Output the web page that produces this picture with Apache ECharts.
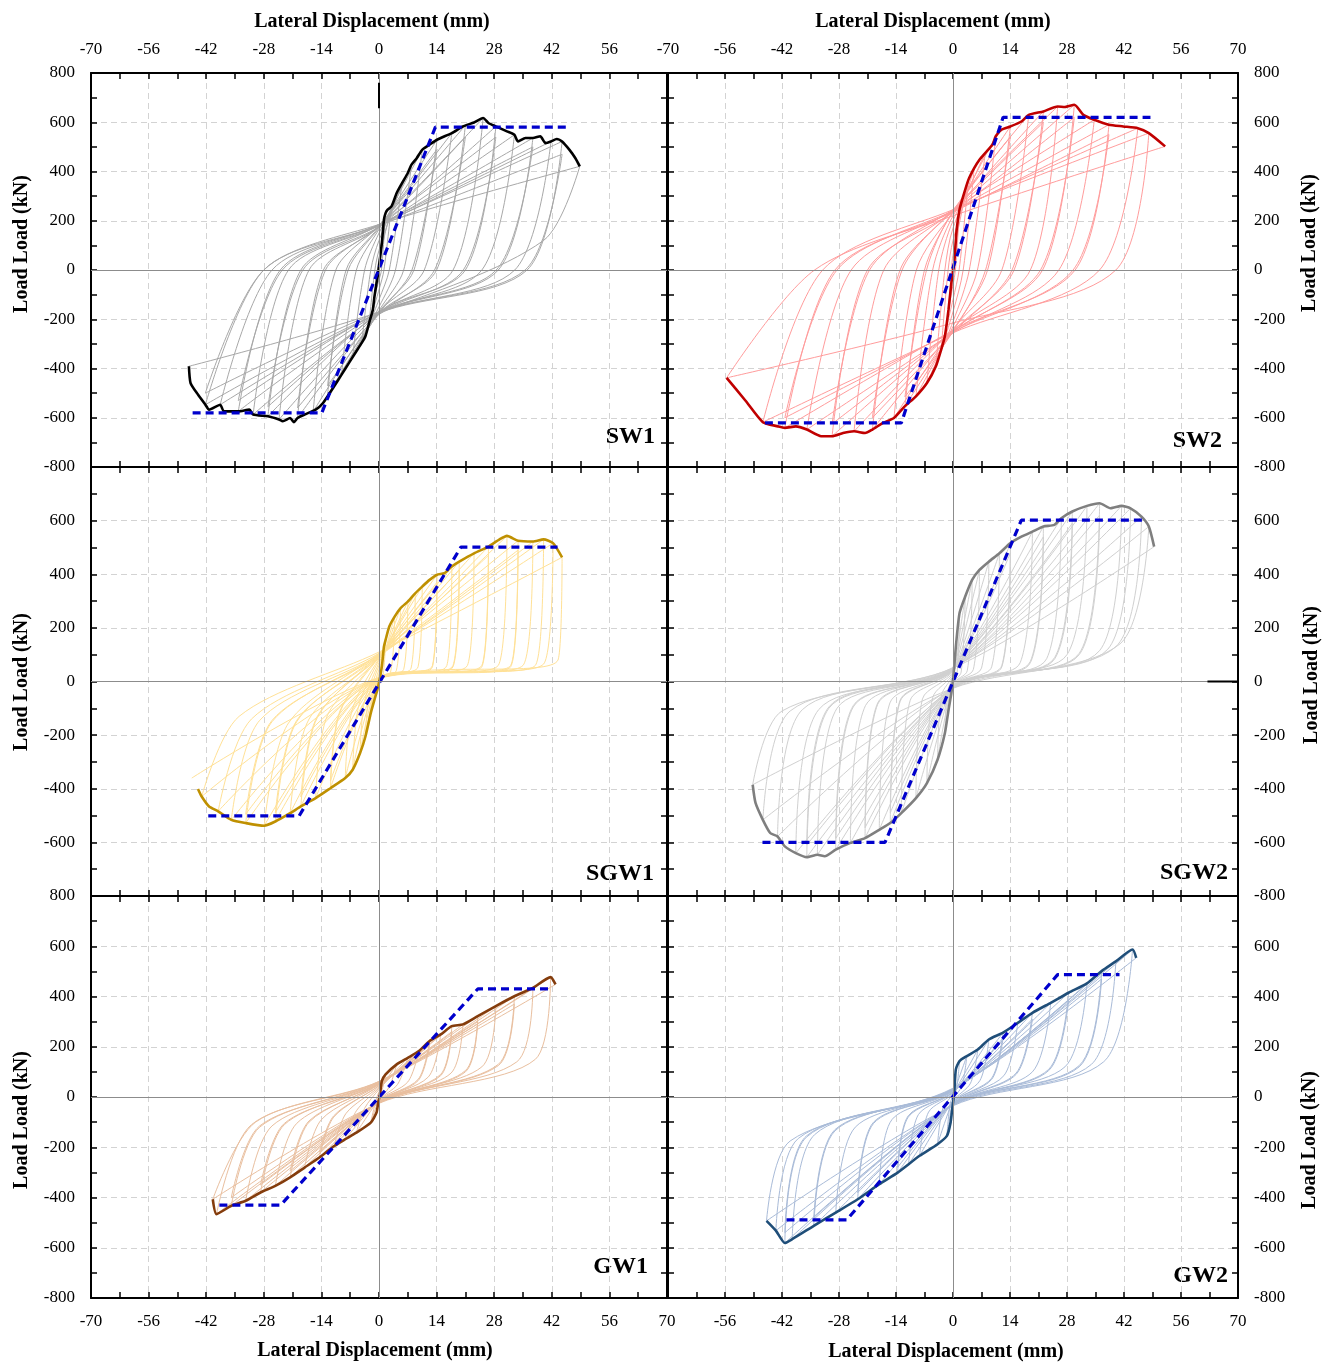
<!DOCTYPE html>
<html>
<head>
<meta charset="utf-8">
<title>Hysteresis curves</title>
<script src="https://cdn.jsdelivr.net/npm/echarts@6/dist/echarts.min.js"></script>
<style>
html,body{margin:0;padding:0;background:#fff;}
#chart{width:1322px;height:1363px;}
</style>
</head>
<body>
<div id="chart"></div>
<script>
// axis ticks
var dispTicks = [-70,-56,-42,-28,-14,0,14,28,42,56,70];
var loadTicks = [-800,-600,-400,-200,0,200,400,600,800];

// ---- SW1 ----  (peaks alternate +/-, each transition: peak -> knee -> (0,pinch) -> next peak)
var sw1PeakD = [1.6,-1.1, 3.0,-2.4, 5.6,-4.2, 7.9,-6.4, 10.5,-9.1, 14.1,-12.5, 14.1,-12.5, 17.7,-16, 21,-19.8, 21,-19.8, 25.3,-24.3, 28.4,-27, 28.4,-27, 32.9,-30.6, 37.4,-34.2, 37.4,-34.2, 41.8,-38.6, 44.5,-42.2, 44.5,-42.2, 48.8,-46.2];
var sw1PeakF = [231,-107, 258,-215, 353,-296, 428,-355, 488,-425, 529,-510, 490,-470, 556,-575, 588,-601, 540,-560, 617,-607, 583,-594, 540,-555, 549,-587, 536,-574, 500,-530, 522,-547, 522,-547, 470,-500, 421,-391];
var sw1KneeD = [0.6,-0.4, 1.2,-1.0, 2.5,-2.0, 4.0,-3.5, 6.0,-5.5, 8.5,-8, 8.0,-7.5, 11,-10.5, 14,-13.5, 13.5,-13, 18,-17, 21,-19, 20.5,-18.5, 25,-22, 29,-24, 28.5,-23.5, 33,-26, 36,-28, 35.5,-28, 40];
var sw1KneeF = [0,0,0,0,0,0,0,0,0,0, 0,0,0,0,0,0,0,0,0,0, 0,0,0,0,0,0,0,0,0,0, 0,0,0,0,0,0,0,0,120];
var sw1Pinch = [-40,40, -80,80, -120,120, -150,150, -165,165, -170,175, -175,170, -170,180, -175,175, -180,180, -175,175, -170,185, -175,175, -180,180, -175,185, -170,180, -175,184, -175,180, -170,185, -170];
var sw1Envelope = [[-46.2,-391],[-45.8,-459],[-44.0,-506],[-42.2,-547],[-41.3,-567],[-38.6,-547],[-37.7,-574],[-34.2,-574],[-31.5,-567],[-30.6,-587],[-27.0,-594],[-24.3,-607],[-23.4,-614],[-21.6,-601],[-20.7,-618],[-19.8,-601],[-18.1,-587],[-15.4,-567],[-13.6,-540],[-10.9,-472],[-9.1,-425],[-7.3,-377],[-5.5,-330],[-4.2,-296],[-3.3,-269],[-2.4,-215],[-1.5,-161],[-1.1,-107],[-0.6,-53],[-0.2,-12],[0.3,55],[0.7,110],[1.2,204],[1.6,231],[2.1,245],[3.0,258],[3.4,272],[4.3,313],[5.6,353],[7.0,394],[7.9,428],[9.2,455],[10.5,488],[12.3,509],[14.1,529],[17.7,556],[20.4,583],[23.1,599],[25.3,617],[26.6,597],[28.4,583],[31.1,563],[32.9,549],[33.8,522],[35.6,536],[37.4,536],[39.2,543],[40.5,515],[41.8,522],[43.2,532],[44.5,522],[46.3,488],[47.7,455],[48.8,421]];
var sw1Bilinear = [[-45.3,-580],[-13.9,-580],[13.7,580],[45.4,580]];

// ---- SW2 ----
var sw2PeakD = [1.6,-1.1, 3.8,-2.9, 5.2,-4.2, 7.9,-6.4, 10.5,-9.1, 14.1,-11.8, 14.1,-11.8, 18.6,-14.5, 22.2,-19.8, 22.2,-19.8, 25.7,-24.3, 29.8,-29.7, 29.8,-29.7, 34.7,-35.9, 38.3,-41.3, 38.3,-41.3, 45.4,-46.7, 48.1,-55.6, 52.1];
var sw2PeakF = [245,-161, 367,-323, 414,-391, 475,-459, 543,-513, 583,-553, 540,-515, 630,-601, 644,-648, 600,-600, 664,-655, 671,-675, 620,-625, 610,-648, 590,-641, 550,-600, 576,-618, 556,-438, 502];
var sw2KneeD = [0.6,-0.4, 1.5,-1.2, 2.5,-2, 4,-3.5, 6,-5, 8.5,-7, 8,-6.5, 12,-9, 15,-13, 14.5,-12.5, 19,-17, 22,-21, 21.5,-20.5, 26,-25, 30,-29, 29.5,-28.5, 36,-32, 40,-34];
var sw2KneeF = [0,0,0,0,0,0,0,0,0,0, 0,0,0,0,0,0,0,0,0,0, 0,0,0,0,0,0,0,0,0,0, 0,0,0,0,0,0];
var sw2Pinch = [-60,60, -120,120, -170,170, -210,200, -230,220, -245,235, -250,240, -240,230, -250,240, -255,245, -245,240, -250,235, -250,245, -255,240, -245,235, -250,240, -255,245, -215,220];
var sw2Envelope = [[-55.6,-438],[-51,-530],[-46.7,-618],[-43,-635],[-41.3,-641],[-38.6,-635],[-35.9,-648],[-32.4,-675],[-29.7,-675],[-27,-662],[-24.3,-655],[-21.6,-662],[-19.8,-648],[-17.2,-621],[-14.5,-601],[-11.8,-553],[-9.1,-513],[-6.4,-459],[-4.2,-391],[-2.9,-323],[-2,-269],[-1.1,-161],[-0.4,-53],[0.3,28],[0.9,164],[1.6,245],[2.5,299],[3.8,367],[5.2,414],[6.5,448],[7.9,475],[9.7,509],[10.5,543],[11.9,570],[14.1,583],[16.8,603],[18.6,630],[22.2,644],[25.7,664],[27.5,662],[29.8,671],[32,630],[34.7,610],[38.3,590],[41.8,583],[45.4,576],[48.1,556],[52.1,502]];
var sw2Bilinear = [[-46.2,-621],[-12.7,-621],[12.3,620],[48.5,620]];

// ---- SGW1 ----
var sgw1PeakD = [1.6,-1.1, 3.8,-2, 5.2,-3.3, 7,-4.6, 8.8,-6.4, 10.5,-8.2, 14.1,-11.8, 14.1,-11.8, 17.7,-15.4, 19.5,-19, 19.5,-19, 23.1,-21.6, 26.6,-25.2, 26.6,-25.2, 31.1,-27.9, 33.8,-32.4, 33.8,-32.4, 37.4,-35.9, 40,-39.1, 42.3,-43.1, 44.5,-45.5];
var sgw1PeakF = [155,-68, 242,-118, 273,-205, 298,-267, 329,-329, 354,-360, 398,-398, 370,-370, 429,-435, 447,-466, 415,-430, 478,-491, 503,-522, 470,-490, 543,-538, 525,-528, 490,-495, 522,-516, 530,-484, 516,-429, 463,-360];
var sgw1KneeD = [1.0,-0.8, 2.8,-1.5, 4.2,-2.5, 6.0,-3.6, 7.8,-5, 9.5,-6.5, 13,-9.5, 13,-9.5, 16.5,-12.5, 18,-15, 18,-15, 21.5,-17, 25,-20, 25,-20, 29,-22, 32,-26, 32,-26, 35,-29, 38,-31, 40,-34, 43.5];
var sgw1KneeF = [25,-20, 35,-35, 40,-60, 45,-80, 50,-95, 55,-105, 60,-115, 55,-110, 60,-125, 60,-135, 55,-130, 60,-140, 60,-150, 55,-145, 60,-155, 60,-150, 55,-145, 60,-145, 60,-140, 65,-130, 80];
var sgw1Pinch = [5,30, 5,45, 8,60, 8,70, 10,80, 10,85, 12,90, 10,95, 12,90, 12,100, 10,95, 12,90, 12,100, 10,95, 12,105, 12,100, 10,95, 12,100, 12,105, 12,110, 15];
var sgw1Envelope = [[-44,-401],[-43.1,-429],[-41.3,-466],[-39.1,-484],[-35.9,-516],[-32.4,-528],[-27.9,-538],[-25.2,-522],[-21.6,-491],[-19,-466],[-15.4,-435],[-11.8,-398],[-8.2,-360],[-6.4,-329],[-4.6,-267],[-3.3,-205],[-2,-118],[-1.1,-68],[-0.2,-19],[0.7,56],[1.2,130],[1.6,155],[2.5,205],[3.8,242],[5.2,273],[7,298],[8.8,329],[10.5,354],[12.3,379],[14.1,398],[15.9,404],[17.7,429],[19.5,447],[23.1,478],[26.6,503],[29.3,530],[31.1,543],[33.8,525],[37.4,522],[40,530],[42.3,516],[44.5,463]];
var sgw1Bilinear = [[-41.5,-501],[-19.4,-501],[19.9,501],[43.4,501]];

// ---- SGW2 ----
var sgw2PeakD = [1.6,-1.1, 3,-2, 4.7,-3.8, 6.5,-6.4, 8.8,-9.1, 11.4,-12.7, 14.1,-15.4, 14.1,-15.4, 19.5,-18.1, 22.2,-21.6, 22.2,-21.6, 26.6,-25.2, 29.3,-28.8, 29.3,-28.8, 32.9,-33.3, 36,-35.9, 36,-35.9, 41.4,-38.6, 43.6,-43.1, 46.3,-46.7, 48.1,-49.2, 49.4];
var sgw2PeakF = [255,-106, 317,-193, 379,-292, 416,-379, 447,-435, 478,-491, 516,-528, 480,-490, 559,-553, 578,-584, 540,-545, 609,-602, 634,-627, 590,-585, 655,-646, 665,-655, 620,-610, 655,-640, 646,-578, 615,-516, 578,-385, 503];
var sgw2KneeD = [1,-0.7, 2,-1.4, 3.5,-2.8, 5,-5, 7,-7.5, 9.5,-10.5, 12,-13, 12,-13, 16.5,-15.5, 19,-18.5, 19,-18.5, 23,-21.5, 25,-24.5, 25,-24.5, 28,-28.5, 31,-30.5, 31,-30.5, 36,-33, 38,-37, 40,-40, 41,-42];
var sgw2KneeF = [30,-30, 35,-40, 40,-50, 45,-60, 50,-65, 55,-70, 60,-75, 55,-70, 70,-80, 75,-85, 70,-80, 85,-90, 90,-95, 85,-90, 100,-100, 105,-100, 100,-95, 115,-105, 120,-105, 130,-110, 140,-110];
var sgw2Pinch = [-5,15, -8,20, -10,25, -12,30, -15,35, -18,40, -20,45, -18,42, -20,45, -22,48, -20,45, -22,50, -25,48, -22,45, -20,50, -25,48, -22,50, -25,48, -22,50, -25,52, -25,50];
var sgw2Envelope = [[-49.2,-385],[-48.5,-453],[-46.7,-516],[-44.9,-565],[-43.1,-578],[-41.3,-615],[-38.6,-640],[-35.9,-655],[-33.3,-646],[-31.5,-652],[-28.8,-627],[-25.2,-602],[-21.6,-584],[-18.1,-553],[-15.4,-528],[-12.7,-491],[-9.1,-435],[-6.4,-379],[-3.8,-292],[-2,-193],[-1.1,-106],[-0.4,-43],[0.1,19],[0.7,130],[1.6,255],[3,317],[4.7,379],[6.5,416],[8.8,447],[11.4,478],[14.1,516],[16.8,540],[19.5,559],[22.2,578],[24.9,584],[26.6,609],[29.3,634],[32.9,655],[36,665],[38.7,646],[41.4,655],[43.6,646],[46.3,615],[48.1,578],[49.4,503]];
var sgw2Bilinear = [[-46.8,-600],[-16.7,-600],[16.8,602],[47.4,602]];

// ---- GW1 ----
var gw1PeakD = [1.6,-2, 4.3,-5.5, 7,-8.2, 9.7,-10.9, 12.3,-14.5, 12.3,-14.5, 15,-18.1, 17.7,-21.6, 17.7,-21.6, 20.4,-25.2, 24,-28.8, 24,-28.8, 28.4,-32.4, 32.9,-35.9, 32.9,-35.9, 37.4,-39.5, 41.7,-40.4, 42.9];
var gw1PeakF = [90,-102, 130,-142, 156,-168, 183,-195, 223,-241, 205,-220, 249,-281, 282,-320, 260,-295, 289,-354, 322,-380, 300,-350, 362,-413, 401,-433, 370,-400, 434,-466, 477,-407, 448];
var gw1KneeD = [0.8,-1, 2.5,-3.5, 4.5,-5.5, 7,-8, 9.5,-11, 9.5,-11, 12,-14, 15,-17, 15,-17, 17.5,-20, 21,-23, 21,-23, 25,-26, 29,-29, 29,-29, 33.5,-31, 38,-30];
var gw1KneeF = [30,-30, 40,-45, 50,-55, 60,-65, 70,-80, 65,-75, 80,-90, 90,-100, 85,-95, 95,-105, 105,-110, 100,-105, 120,-115, 130,-120, 125,-115, 140,-110, 150,-100];
var gw1Pinch = [-5,20, -8,30, -10,35, -12,40, -15,45, -15,45, -18,50, -20,52, -18,50, -20,55, -22,55, -20,52, -22,58, -24,60, -22,58, -24,62, -25,62];
var gw1Envelope = [[-40.4,-407],[-39.5,-466],[-35.9,-433],[-32.4,-413],[-28.8,-380],[-25.2,-354],[-21.6,-320],[-18.1,-281],[-14.5,-241],[-10.9,-195],[-8.2,-168],[-5.5,-142],[-2,-102],[-0.6,-62],[-0.2,-23],[0.3,17],[0.7,64],[1.6,90],[4.3,130],[7,156],[9.7,183],[12.3,223],[15,249],[17.7,282],[20.4,289],[24,322],[28.4,362],[32.9,401],[37.4,434],[41.7,477],[42.9,448]];
var gw1Bilinear = [[-38.8,-430],[-23.9,-430],[24,430],[41.8,430]];

// ---- GW2 ----
var gw2PeakD = [1.6,-1.5, 3.4,-3.8, 6.1,-8.2, 8.8,-10.9, 12.3,-13.6, 12.3,-13.6, 15.9,-18.1, 19.5,-23.4, 19.5,-23.4, 24,-28.8, 28.4,-34.2, 28.4,-34.2, 32.9,-39.5, 36.5,-41.3, 36.5,-41.3, 40,-43.5, 44.1,-45.8, 45];
var gw2PeakF = [143,-155, 163,-188, 189,-234, 229,-268, 256,-301, 235,-280, 295,-347, 335,-407, 310,-380, 375,-460, 415,-513, 385,-480, 452,-566, 501,-581, 470,-540, 540,-532, 587,-493, 554];
var gw2KneeD = [0.9,-0.8, 2.2,-2.5, 4.3,-6, 6.6,-8.5, 9.5,-11, 9.5,-11, 12.5,-15, 15.5,-19.5, 15.5,-19.5, 19.5,-24, 23.5,-29, 23.5,-29, 27.5,-34, 31,-36, 31,-36, 34,-38, 37,-40];
var gw2KneeF = [35,-35, 45,-45, 55,-60, 65,-70, 75,-80, 70,-75, 85,-90, 95,-105, 90,-100, 100,-120, 110,-135, 105,-130, 120,-150, 125,-160, 120,-155, 130,-165, 140,-175];
var gw2Pinch = [-8,8, -12,12, -15,15, -18,18, -20,20, -20,20, -24,24, -26,26, -25,25, -28,28, -30,30, -28,28, -30,30, -32,32, -30,30, -33,33, -35,35];
var gw2Envelope = [[-45.8,-493],[-43.5,-532],[-41.3,-581],[-39.5,-566],[-34.2,-513],[-28.8,-460],[-23.4,-407],[-18.1,-347],[-13.6,-301],[-8.2,-234],[-3.8,-188],[-1.5,-155],[-0.6,-102],[-0.2,-49],[0.3,17],[0.7,110],[1.6,143],[3.4,163],[6.1,189],[8.8,229],[12.3,256],[15.9,295],[19.5,335],[24,375],[28.4,415],[32.9,452],[36.5,501],[40,540],[44.1,587],[45,554]];
var gw2Bilinear = [[-40.9,-489],[-26.1,-489],[25.7,487],[40.9,487]];

// stray marks in the original figure
var sw1StrayMark = [[0,657],[0,760]];
var sgw2StrayMark = [[62.5,0],[70,0]];

var panels = [
	{label:'SW1', peakD:sw1PeakD, peakF:sw1PeakF, kneeD:sw1KneeD, kneeF:sw1KneeF, pinch:sw1Pinch, env:sw1Envelope, bil:sw1Bilinear, loopColor:'#a8a8a8', envColor:'#000000', box:{left:91,top:73,width:576,height:394}, labelPos:[655,437]},
	{label:'SW2', peakD:sw2PeakD, peakF:sw2PeakF, kneeD:sw2KneeD, kneeF:sw2KneeF, pinch:sw2Pinch, env:sw2Envelope, bil:sw2Bilinear, loopColor:'#ff9c9c', envColor:'#c00000', box:{left:668,top:73,width:570,height:394}, labelPos:[1222,441]},
	{label:'SGW1', peakD:sgw1PeakD, peakF:sgw1PeakF, kneeD:sgw1KneeD, kneeF:sgw1KneeF, pinch:sgw1Pinch, env:sgw1Envelope, bil:sgw1Bilinear, loopColor:'#ffe196', envColor:'#bf9000', box:{left:91,top:467,width:576,height:429}, labelPos:[654,874]},
	{label:'SGW2', peakD:sgw2PeakD, peakF:sgw2PeakF, kneeD:sgw2KneeD, kneeF:sgw2KneeF, pinch:sgw2Pinch, env:sgw2Envelope, bil:sgw2Bilinear, loopColor:'#d0d0d0', envColor:'#7f7f7f', box:{left:668,top:467,width:570,height:429}, labelPos:[1228,873]},
	{label:'GW1', peakD:gw1PeakD, peakF:gw1PeakF, kneeD:gw1KneeD, kneeF:gw1KneeF, pinch:gw1Pinch, env:gw1Envelope, bil:gw1Bilinear, loopColor:'#e9bf9f', envColor:'#843c0c', box:{left:91,top:896,width:576,height:402}, labelPos:[648,1267]},
	{label:'GW2', peakD:gw2PeakD, peakF:gw2PeakF, kneeD:gw2KneeD, kneeF:gw2KneeF, pinch:gw2Pinch, env:gw2Envelope, bil:gw2Bilinear, loopColor:'#a9bbd8', envColor:'#1f4e79', box:{left:668,top:896,width:570,height:402}, labelPos:[1228,1276]}
];

var fontName = 'Liberation Serif';
var chart = echarts.init(document.getElementById('chart'));

function axisBase(isX){
	return {
		type:'value',
		min: isX ? dispTicks[0] : loadTicks[0],
		max: isX ? dispTicks[dispTicks.length-1] : loadTicks[loadTicks.length-1],
		interval: isX ? 14 : 200,
		axisLine:{show:true, onZero:false, lineStyle:{color:'#000', width:2}},
		axisTick:{show:true, inside:true, length:6, lineStyle:{color:'#000', width:1.5}},
		minorTick:{show:true, splitNumber:2, length:6, lineStyle:{color:'#000', width:1.5}},
		splitLine:{show:false},
		axisLabel:{show:false},
		animation:false
	};
}

var grids = [], xAxes = [], yAxes = [], series = [];

panels.forEach(function(p, i){
	var row = Math.floor(i/2), col = i%2;
	grids.push(p.box);

	// main x axis (with grid lines) and the opposite border
	var xm = axisBase(true);
	xm.gridIndex = i;
	xm.position = row == 2 ? 'bottom' : 'top';
	xm.splitLine = {show:true, lineStyle:{color:'#d3d3d3', width:1, type:[6,4]}};
	if (row != 1) {
		xm.axisLabel = {show:true, fontFamily:fontName, fontSize:17, color:'#000', margin: row == 0 ? 15 : 15,
			showMaxLabel: !(row == 0 && col == 0), showMinLabel: !(row == 2 && col == 1)};
	}
	var xo = axisBase(true);
	xo.gridIndex = i;
	xo.position = row == 2 ? 'top' : 'bottom';
	xAxes.push(xm, xo);

	var ym = axisBase(false);
	ym.gridIndex = i;
	ym.position = col == 0 ? 'left' : 'right';
	ym.splitLine = {show:true, lineStyle:{color:'#d3d3d3', width:1, type:[6,4]}};
	var showMin = true, showMax = true;
	if (row == 1) { showMax = false; showMin = col == 1; }
	if (row == 2 && col == 1) showMax = false;
	ym.axisLabel = {show:true, fontFamily:fontName, fontSize:17, color:'#000', margin:16, showMinLabel:showMin, showMaxLabel:showMax};
	var yo = axisBase(false);
	yo.gridIndex = i;
	yo.position = col == 0 ? 'right' : 'left';
	yAxes.push(ym, yo);

	var xi = 2*i, yi = 2*i;

	// zero lines
	series.push({
		type:'line', xAxisIndex:xi, yAxisIndex:yi, data:[[0,0]], showSymbol:false, silent:true, z:1,
		lineStyle:{width:0},
		markLine:{symbol:['none','none'], silent:true, animation:false, label:{show:false},
			lineStyle:{color:'#8c8c8c', width:1, type:'solid'},
			data:[{xAxis:0},{yAxis:0}]}
	});

	// hysteresis loops
	for (var k = 0; k < p.peakD.length - 1; k++) {
		series.push({
			type:'line', xAxisIndex:xi, yAxisIndex:yi, smooth:0.3, symbol:'none', silent:true, z:2,
			lineStyle:{color:p.loopColor, width:1},
			data:[[p.peakD[k], p.peakF[k]], [p.kneeD[k], p.kneeF[k]], [0, p.pinch[k]], [p.peakD[k+1], p.peakF[k+1]]]
		});
	}

	// skeleton curve
	series.push({
		type:'line', xAxisIndex:xi, yAxisIndex:yi, smooth:0.2, symbol:'none', silent:true, z:3,
		lineStyle:{color:p.envColor, width:2.6},
		data:p.env
	});

	// bilinear idealisation
	series.push({
		type:'line', xAxisIndex:xi, yAxisIndex:yi, symbol:'none', silent:true, z:4,
		lineStyle:{color:'#0000cc', width:3.2, type:[8,5]},
		data:p.bil
	});
});

series.push({type:'line', xAxisIndex:0, yAxisIndex:0, symbol:'none', silent:true, z:5, lineStyle:{color:'#000', width:2}, data:sw1StrayMark});
series.push({type:'line', xAxisIndex:6, yAxisIndex:6, symbol:'none', silent:true, z:5, lineStyle:{color:'#000', width:2}, data:sgw2StrayMark});

var titleFont = 'bold 20px "Liberation Serif"';
function txt(s, x, y, font, align, rot){
	return {type:'text', x:x, y:y, rotation:rot || 0, silent:true,
		style:{text:s, font:font, fill:'#000', align:align, verticalAlign:'middle', textAlign:align, textVerticalAlign:'middle'}};
}
var graphics = [
	txt('Lateral Displacement (mm)', 372, 22, titleFont, 'center'),
	txt('Lateral Displacement (mm)', 933, 22, titleFont, 'center'),
	txt('Lateral Displacement (mm)', 375, 1351, titleFont, 'center'),
	txt('Lateral Displacement (mm)', 946, 1352, titleFont, 'center'),
	txt('Load Load (kN)', 22, 244, titleFont, 'center', Math.PI/2),
	txt('Load Load (kN)', 22, 682, titleFont, 'center', Math.PI/2),
	txt('Load Load (kN)', 22, 1120, titleFont, 'center', Math.PI/2),
	txt('Load Load (kN)', 1310, 243, titleFont, 'center', Math.PI/2),
	txt('Load Load (kN)', 1312, 675, titleFont, 'center', Math.PI/2),
	txt('Load Load (kN)', 1310, 1140, titleFont, 'center', Math.PI/2)
];
panels.forEach(function(p){
	graphics.push(txt(p.label, p.labelPos[0], p.labelPos[1], 'bold 24px "Liberation Serif"', 'right'));
});

var option = {
	animation:false,
	backgroundColor:'#ffffff',
	textStyle:{fontFamily:fontName},
	grid:grids,
	xAxis:xAxes,
	yAxis:yAxes,
	series:series,
	graphic:graphics
};
chart.setOption(option);
</script>
</body>
</html>
